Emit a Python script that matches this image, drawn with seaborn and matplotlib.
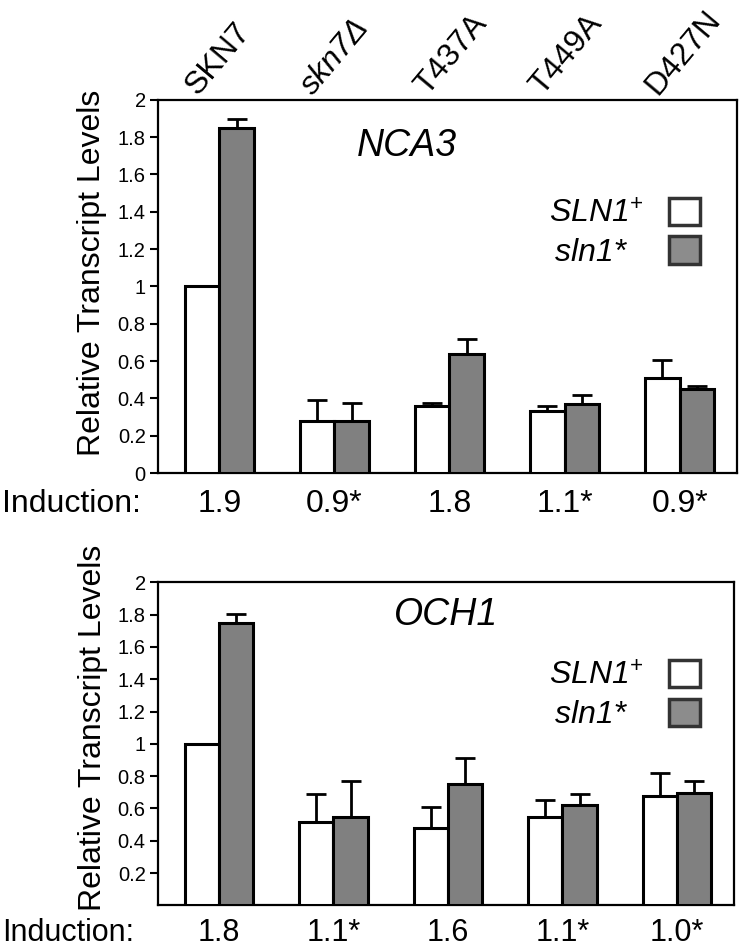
import numpy as np
import pandas as pd
import matplotlib
matplotlib.use("Agg")
import matplotlib.pyplot as plt
import matplotlib.ticker as mticker
from matplotlib.patches import Patch
import seaborn as sns

# ── Data ──────────────────────────────────────────────────────────────────
STRAINS = ["SKN7", "skn7Δ", "T437A", "T449A", "D427N"]
ALLELES = ["SLN1+", "sln1*"]

nca3_wt      = [1.00, 0.28, 0.36, 0.33, 0.51]
nca3_wt_err  = [0.00, 0.11, 0.014, 0.03, 0.096]
nca3_mut     = [1.85, 0.28, 0.64, 0.37, 0.45]
nca3_mut_err = [0.045, 0.095, 0.08, 0.047, 0.014]

och1_wt      = [1.00, 0.515, 0.48, 0.55, 0.68]
och1_wt_err  = [0.00, 0.176, 0.126, 0.104, 0.137]
och1_mut     = [1.75, 0.55, 0.75, 0.62, 0.695]
och1_mut_err = [0.056, 0.218, 0.163, 0.069, 0.073]

nca3_induction = ["1.9", "0.9*", "1.8", "1.1*", "0.9*"]
och1_induction = ["1.8", "1.1*", "1.6", "1.1*", "1.0*"]

# ── Styling ───────────────────────────────────────────────────────────────
GREY = "#808080"
FONT = "Liberation Sans"

sns.set_theme(style="ticks")
plt.rcParams["font.family"] = [FONT, "DejaVu Sans"]
plt.rcParams["text.color"] = "black"
plt.rcParams["axes.labelcolor"] = "black"
plt.rcParams["mathtext.fontset"] = "custom"
plt.rcParams["mathtext.rm"] = FONT
plt.rcParams["mathtext.it"] = f"{FONT}:italic"
plt.rcParams["mathtext.bf"] = f"{FONT}:bold"


def make_frame(wt, wt_err, mut, mut_err):
    return pd.DataFrame({
        "strain": STRAINS * 2,
        "allele": [ALLELES[0]] * len(STRAINS) + [ALLELES[1]] * len(STRAINS),
        "level": wt + mut,
        "err": wt_err + mut_err,
    })


def draw_panel(ax, df, gene, gene_pos, induction, yticks, legend_anchor,
               ylabel_y, induction_y, induction_size):
    sns.barplot(data=df, x="strain", y="level", hue="allele", order=STRAINS,
                hue_order=ALLELES, palette={ALLELES[0]: "white", ALLELES[1]: GREY},
                saturation=1, width=0.6, edgecolor="black", linewidth=2.2,
                errorbar=None, legend=False, ax=ax, zorder=3)

    # one-sided (upper) error bars on top of each bar
    for cont, allele in zip(ax.containers, ALLELES):
        errs = df.loc[df["allele"] == allele, "err"].to_numpy()
        xs = [p.get_x() + p.get_width() / 2 for p in cont.patches]
        ys = [p.get_height() for p in cont.patches]
        ax.errorbar(xs, ys, yerr=[np.zeros_like(errs), errs], fmt="none",
                    ecolor="black", elinewidth=2, capsize=7, capthick=2, zorder=2)

    ax.set_xlim(-0.53, 4.5)
    ax.set_ylim(0, 2)
    ax.set_xticks([])
    ax.set_xlabel("")
    ax.set_yticks(yticks)
    ax.yaxis.set_major_formatter(mticker.FuncFormatter(lambda v, _: f"{v:g}"))
    ax.tick_params(axis="y", direction="out", length=6, width=1.5,
                   labelsize=14.5, pad=3, colors="black")
    ax.set_ylabel("Relative Transcript Levels", fontsize=23)
    ax.yaxis.set_label_coords(-0.088, ylabel_y)
    for sp in ax.spines.values():
        sp.set_visible(True)
        sp.set_color("black")
        sp.set_linewidth(1.6)

    ax.text(gene_pos[0], gene_pos[1], gene, transform=ax.transAxes,
            ha="center", va="center", fontsize=27, style="italic")

    handles = [Patch(facecolor="white", edgecolor="#333333", linewidth=2.5),
               Patch(facecolor="#8c8c8c", edgecolor="#333333", linewidth=2.5)]
    ax.legend(handles, ["SLN1$^{+}$", "sln1*  "], loc="upper right",
              bbox_to_anchor=legend_anchor, frameon=False, markerfirst=False,
              prop={"family": FONT, "style": "italic", "size": 23},
              handlelength=0.95, handleheight=0.95, handletextpad=0.8,
              labelspacing=0.22, borderpad=0, borderaxespad=0)

    tr = ax.get_xaxis_transform()
    for i, lab in enumerate(induction):
        ax.text(i, induction_y, lab, transform=tr, ha="center", va="baseline",
                fontsize=induction_size)


fig = plt.figure(figsize=(7.5, 9.5), dpi=100)
ax1 = fig.add_axes([0.211, 0.502, 0.772, 0.393])
ax2 = fig.add_axes([0.211, 0.047, 0.768, 0.340])

draw_panel(ax1, make_frame(nca3_wt, nca3_wt_err, nca3_mut, nca3_mut_err),
           "NCA3", (0.43, 0.875), nca3_induction,
           np.arange(0, 2.01, 0.2), (0.935, 0.738), 0.536, -0.105, 23)
draw_panel(ax2, make_frame(och1_wt, och1_wt_err, och1_mut, och1_mut_err),
           "OCH1", (0.5, 0.9), och1_induction,
           np.arange(0.2, 2.01, 0.2), (0.94, 0.76), 0.55, -0.111, 22)

# strain labels above the top panel
for i, name in enumerate(STRAINS):
    ax1.text(i - 0.19, 2.02, name, rotation=50, rotation_mode="anchor",
             ha="left", va="baseline", fontsize=23,
             style="italic" if name == "skn7Δ" else "normal")

fig.text(0.003, 0.461, "Induction:", ha="left", va="baseline", fontsize=23)
fig.text(0.003, 0.0095, "Induction:", ha="left", va="baseline", fontsize=22)

fig.savefig("out.png", dpi=100, facecolor="white")
